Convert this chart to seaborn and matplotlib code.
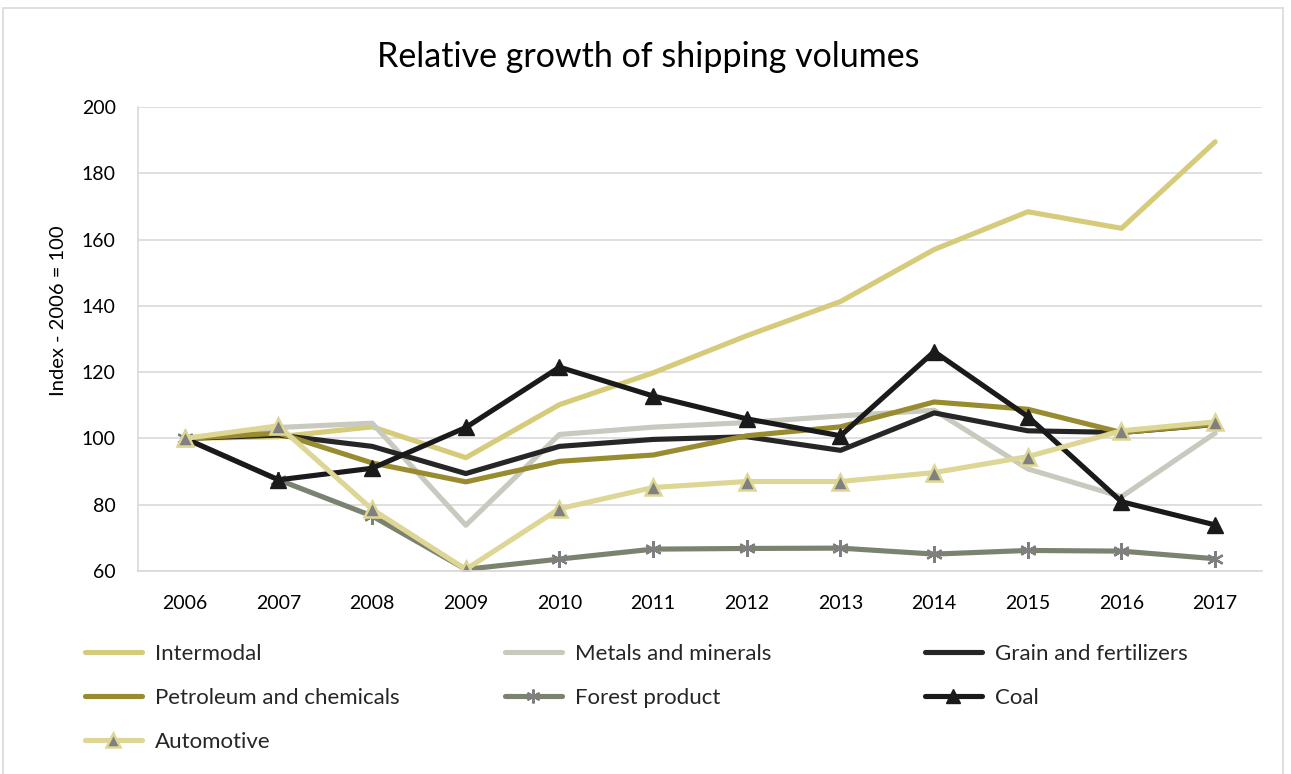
import numpy as np
import pandas as pd
import matplotlib
matplotlib.use("Agg")
import matplotlib.pyplot as plt
import seaborn as sns
from matplotlib.patches import Rectangle

# ---- data ----
years = [2006, 2007, 2008, 2009, 2010, 2011, 2012, 2013, 2014, 2015, 2016, 2017]
intermodal = [100, 100.5, 103.5, 94.2, 110.2, 119.8, 131, 141.3, 157, 168.4, 163.4, 189.5]
metals = [100, 103.3, 104.6, 73.8, 101.2, 103.4, 104.8, 106.8, 108.5, 90.8, 82.4, 101.6]
grain = [100, 101, 97.6, 89.4, 97.6, 99.7, 100.5, 96.4, 107.7, 102.3, 101.8, 104.2]
petroleum = [100, 101.6, 92.6, 86.9, 93.1, 95, 100.8, 103.5, 111, 108.8, 101.8, 104.3]
forest = [100, 87.5, 76.6, 60.5, 63.6, 66.6, 66.8, 66.9, 65.1, 66.2, 66, 63.7]
coal = [100, 87.5, 91, 103.3, 121.5, 112.8, 105.9, 100.8, 126.2, 106.6, 80.9, 73.9]
automotive = [100, 103.8, 78.6, 60.5, 78.8, 85.2, 87, 87, 89.7, 94.5, 102.3, 105]

series_names = ["Intermodal", "Metals and minerals", "Grain and fertilizers",
                "Petroleum and chemicals", "Forest product", "Coal", "Automotive"]
series_values = [intermodal, metals, grain, petroleum, forest, coal, automotive]
y_ticks = [60, 80, 100, 120, 140, 160, 180, 200]

title = "Relative growth of shipping volumes"
y_label = "Index - 2006 = 100"

# ---- style ----
sns.set_theme(style="white")
plt.rcParams["font.family"] = ["Lato", "DejaVu Sans"]

colors = {
    "Intermodal": "#D6CB7A",
    "Metals and minerals": "#C8C9BF",
    "Grain and fertilizers": "#262626",
    "Petroleum and chemicals": "#998B2F",
    "Forest product": "#7A8270",
    "Coal": "#1A1A1A",
    "Automotive": "#DDD694",
}
marker_style = {
    "Forest product": dict(marker=(6, 2, 0), markersize=12, markeredgewidth=1.6,
                           markeredgecolor="#7F7F7F", markerfacecolor="#7F7F7F"),
    "Coal": dict(marker="^", markersize=12, markeredgewidth=1.0,
                 markeredgecolor="#1A1A1A", markerfacecolor="#1A1A1A"),
    "Automotive": dict(marker="^", markersize=11.5, markeredgewidth=1.8,
                       markeredgecolor="#DDD694", markerfacecolor="#808080"),
}

fig = plt.figure(figsize=(12.91, 7.74), dpi=100)
ax = fig.add_axes([138 / 1291, 1 - 571 / 774, (1262 - 138) / 1291, (571 - 107) / 774])

handles = {}
for name, vals in zip(series_names, series_values):
    d = pd.DataFrame({"Year": years, "Value": vals})
    kw = marker_style.get(name, dict(marker=None))
    sns.lineplot(data=d, x="Year", y="Value", ax=ax, color=colors[name],
                 linewidth=3.7, solid_capstyle="round", solid_joinstyle="round",
                 label=name, legend=False, **kw)
    handles[name] = ax.get_lines()[-1]

ax.set_xlim(years[0] - 0.5, years[-1] + 0.5)
ax.set_ylim(60, 200)
ax.set_xticks(years)
ax.set_xticklabels([str(y) for y in years])
ax.set_yticks(y_ticks)
ax.set_yticklabels([str(t) for t in y_ticks])
ax.yaxis.grid(True, color="#D9D9D9", linewidth=1.2)
ax.xaxis.grid(False)
ax.set_axisbelow(True)
for s in ["top", "right"]:
    ax.spines[s].set_visible(False)
for s in ["left", "bottom"]:
    ax.spines[s].set_color("#D9D9D9")
    ax.spines[s].set_linewidth(1.2)
ax.tick_params(axis="both", length=0, labelsize=14, colors="#000000")
ax.tick_params(axis="y", pad=16)
ax.tick_params(axis="x", pad=17)
ax.set_xlabel("")
ax.set_ylabel(y_label, fontsize=14.5, color="#000000")
ax.yaxis.set_label_coords(-0.063, 0.56)

fig.suptitle(title, x=648 / 1291, y=1 - 57 / 774, va="center", fontsize=24.5, color="#000000")

# legend: three columns laid out row-wise like the reference
cols = [["Intermodal", "Petroleum and chemicals", "Automotive"],
        ["Metals and minerals", "Forest product"],
        ["Grain and fertilizers", "Coal"]]
col_x = [85, 505, 925]
for names, x0 in zip(cols, col_x):
    leg = fig.legend([handles[n] for n in names], names,
                     loc="upper left", bbox_to_anchor=(x0 / 1291, 1 - 644 / 774),
                     frameon=False, fontsize=16, handlelength=2.55, handletextpad=0.6,
                     labelspacing=1.08, borderpad=0, borderaxespad=0)
    for ln in leg.get_lines():
        ln.set_markersize(10)

# outer border of the chart
fig.patches.append(Rectangle((3 / 1291, -0.02), (1283 - 3) / 1291, 1 - 8 / 774 + 0.02,
                             transform=fig.transFigure, fill=False,
                             edgecolor="#D9D9D9", linewidth=1.2))

fig.savefig("out.png", dpi=100, facecolor="white")
